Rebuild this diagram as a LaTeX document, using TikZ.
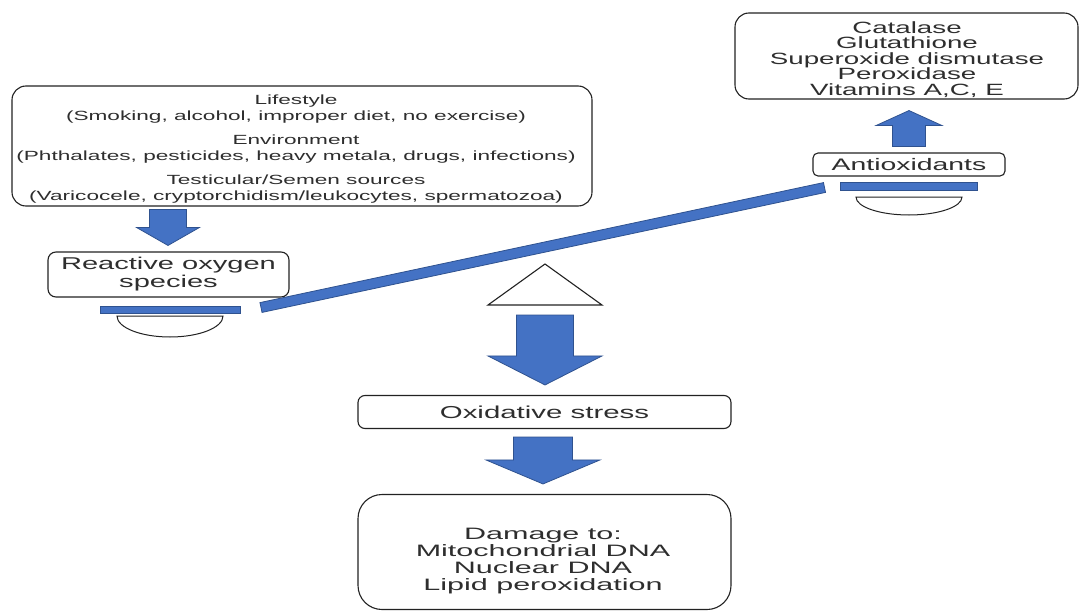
\documentclass[tikz,border=0pt]{standalone}
\usepackage{fontspec}
\setmainfont{Liberation Sans}[FakeStretch=1.7]
\newfontfamily\dmgfont{Liberation Sans}[FakeStretch=1.85]
\usetikzlibrary{calc}
\definecolor{arrblue}{HTML}{4472C4}
\definecolor{arredge}{HTML}{2F528F}
\definecolor{boxline}{HTML}{222222}
\definecolor{txt}{HTML}{2E2E2E}
\newcommand\blk[5]{%
  \path[blockarrow] let \p1=(#1), \p2=(#2), \n1={sign(\y1-\y2)*#5} in
   (\x1-#3pt,\y1) -- (\x1-#3pt,{\y2+\n1*1pt}) -- (\x1-#4pt,{\y2+\n1*1pt}) -- (\x1,\y2)
   -- (\x1+#4pt,{\y2+\n1*1pt}) -- (\x1+#3pt,{\y2+\n1*1pt}) -- (\x1+#3pt,\y1) -- cycle;}
\tikzset{
  box/.style={draw=boxline, line width=1.1pt, text=txt, align=center, inner sep=0pt},
  label text/.style={text=txt, align=center, inner sep=0pt},
  blockarrow/.style={fill=arrblue, draw=arredge, line width=0.8pt, line join=miter},
  bowl/.style={draw=boxline, line width=1pt, fill=white},
  fulcrum/.style={draw=boxline, line width=1.1pt, fill=white, line join=miter},
}
\begin{document}
\begin{tikzpicture}[x=1pt,y=-1pt]
\useasboundingbox[fill=white] (0,0) rectangle (1080,613);

% boxes
\node[box, rounded corners=14pt, minimum width=580pt, minimum height=120pt] (life) at (302,146) {};
\node[label text, font=\fontsize{13.3}{16}\selectfont] (lifetxt) at (296,149)
 {Lifestyle\\(Smoking, alcohol, improper diet, no exercise)\\[8pt]Environment\\(Phthalates, pesticides, heavy metala, drugs, infections)\\[8pt]Testicular/Semen sources\\(Varicocele, cryptorchidism/leukocytes, spermatozoa)};

\node[box, rounded corners=14pt, minimum width=343pt, minimum height=86pt] (antilist) at (906.5,56) {};
\node[label text, font=\fontsize{16.3}{15.4}\selectfont] (antilisttxt) at (907,59.5)
 {Catalase\\Glutathione\\Superoxide dismutase\\Peroxidase\\Vitamins A,C, E};

\node[box, rounded corners=5pt, minimum width=192pt, minimum height=23pt,
      font=\fontsize{16.7}{18}\selectfont] (antiox) at (909,164.5) {Antioxidants};

\node[box, rounded corners=8pt, minimum width=241pt, minimum height=45pt,
      font=\fontsize{17.1}{18}\selectfont] (ros) at (168.5,274.5) {Reactive oxygen\\species};

\node[box, rounded corners=7pt, minimum width=373pt, minimum height=33pt,
      font=\fontsize{17.3}{18}\selectfont] (oxid) at (544.5,412) {Oxidative stress};

\node[box, rounded corners=24pt, minimum width=373pt, minimum height=115pt] (damage) at (544.5,552) {};
\node[label text, font=\dmgfont\fontsize{16.5}{17.2}\selectfont] (damagetxt) at (543,561)
 {Damage to:\\Mitochondrial DNA\\Nuclear DNA\\Lipid peroxidation};

% seesaw
\coordinate (tl) at (488,305);
\coordinate (tt) at (545,264);
\coordinate (tr) at (602,305);
\draw[fulcrum] (tl) -- (tt) -- (tr) -- cycle;
\coordinate (fulc) at (545,305);

\path[blockarrow] (259.96,302.6) -- (823.46,182.6) -- (825.54,192.4) -- (262.04,312.4) -- cycle;

% pans
\path[blockarrow] (100,306) rectangle (240,313);
\draw[bowl] (117,316) arc[start angle=180, end angle=360, x radius=53pt, y radius=21pt] -- cycle;
\path[blockarrow] (840,182) rectangle (977,190);
\draw[bowl] (856,197) arc[start angle=180, end angle=360, x radius=53pt, y radius=18pt] -- cycle;

% block arrows
\coordinate (c1) at (168,0);
\coordinate (c2) at (909,0);
\coordinate (c4) at (543,0);
\blk{$(c1 |- life.south)+(0,3)$}{$(c1 |- ros.north)+(0,-6)$}{18.5}{31.5}{18}
\blk{$(c2 |- antiox.north)+(0,-6)$}{$(c2 |- antilist.south)+(0,11)$}{16.5}{33}{15}
\blk{$(fulc)+(0,10)$}{$(fulc |- oxid.north)+(0,-10)$}{28.5}{57}{29}
\blk{$(c4 |- oxid.south)+(0,8)$}{$(c4 |- damage.north)+(0,-10)$}{29.5}{57}{24}
\end{tikzpicture}
\end{document}
